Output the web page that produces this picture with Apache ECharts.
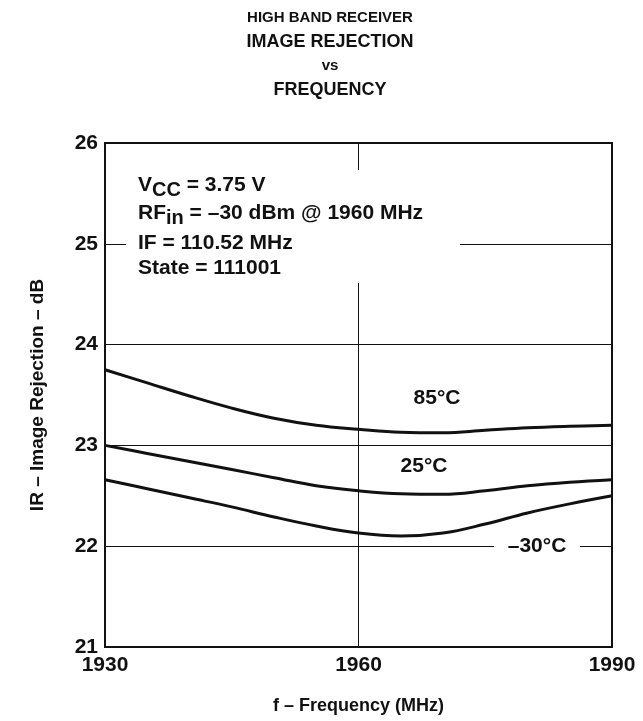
<!DOCTYPE html>
<html>
<head>
<meta charset="utf-8">
<script src="https://cdn.jsdelivr.net/npm/echarts@6/dist/echarts.min.js"></script>
<style>
  html, body { margin: 0; padding: 0; background: #fff; }
  #chart { width: 643px; height: 721px; }
</style>
</head>
<body>
<div id="chart"></div>
<script>
// frequency points (MHz)
const freqs = [1930, 1935, 1940, 1945, 1950, 1955, 1960, 1965, 1970, 1975, 1980, 1985, 1990];

// image rejection (dB) per temperature
const ir85 = [23.75, 23.62, 23.49, 23.37, 23.27, 23.20, 23.16, 23.13, 23.125, 23.15, 23.175, 23.19, 23.20];
const ir25 = [23.00, 22.92, 22.84, 22.76, 22.68, 22.60, 22.55, 22.52, 22.515, 22.55, 22.60, 22.635, 22.66];
const irM30 = [22.66, 22.57, 22.48, 22.39, 22.29, 22.20, 22.13, 22.10, 22.13, 22.22, 22.33, 22.42, 22.50];

const xTicks = [1930, 1960, 1990];
const yTicks = [21, 22, 23, 24, 25, 26];

const FONT = '"Liberation Sans", Arial, Helvetica, sans-serif';

const pairs = (ys) => freqs.map((f, i) => [f, ys[i]]);

const lineSeries = (name, ys) => ({
    name: name,
    type: 'line',
    data: pairs(ys),
    smooth: 0.4,
    symbol: 'none',
    z: 10,
    lineStyle: { color: '#111', width: 3 }
});

const chart = echarts.init(document.getElementById('chart'));

/**
 * 标注文字（图中说明）
 */
const txt = (x, y, text, size, align) => ({
    type: 'text',
    x: x, y: y, z: 20,
    style: {
        text: text,
        font: 'bold ' + size + 'px ' + FONT,
        fill: '#111',
        align: align || 'center',
        verticalAlign: 'middle'
    }
});

/**
 * 带下标的说明行
 */
const subTxt = (x, y, main, sub, rest) => ({
    type: 'text',
    x: x, y: y, z: 20,
    style: {
        text: '{b|' + main + '}{s|' + sub + '}{b|' + rest + '}',
        fill: '#111',
        verticalAlign: 'middle',
        rich: {
            b: { font: 'bold 21px ' + FONT, fill: '#111', height: 24 },
            s: { font: 'bold 20px ' + FONT, fill: '#111', height: 24, padding: [10, 0, 0, 0] }
        }
    }
});

chart.setOption({
    animation: false,
    backgroundColor: '#fff',
    grid: { left: 105, right: 31, top: 143, bottom: 74 },
    xAxis: {
        type: 'value',
        min: xTicks[0], max: xTicks[xTicks.length - 1], interval: 30,
        name: 'f – Frequency (MHz)',
        nameLocation: 'middle',
        nameGap: 50,
        nameTextStyle: { fontFamily: FONT, fontWeight: 'bold', fontSize: 18, color: '#111' },
        axisLine: { lineStyle: { color: '#111', width: 2 } },
        axisTick: { show: false },
        axisLabel: { fontFamily: FONT, fontWeight: 'bold', fontSize: 21, color: '#111', margin: 8,
                     formatter: (v) => String(v) },
        splitLine: { show: true, lineStyle: { color: '#111', width: 1 } }
    },
    yAxis: {
        type: 'value',
        min: yTicks[0], max: yTicks[yTicks.length - 1], interval: 1,
        name: 'IR – Image Rejection – dB',
        nameLocation: 'middle',
        nameGap: 58,
        nameTextStyle: { fontFamily: FONT, fontWeight: 'bold', fontSize: 19, color: '#111' },
        axisLine: { show: true, lineStyle: { color: '#111', width: 2 } },
        axisTick: { show: false },
        axisLabel: { fontFamily: FONT, fontWeight: 'bold', fontSize: 21, color: '#111', margin: 7 },
        splitLine: { show: true, lineStyle: { color: '#111', width: 1 } }
    },
    series: [
        lineSeries('85°C', ir85),
        lineSeries('25°C', ir25),
        lineSeries('–30°C', irM30)
    ],
    graphic: [
        // 图框右/上边
        { type: 'rect', z: 15, shape: { x: 105, y: 143, width: 507, height: 504 },
          style: { fill: 'none', stroke: '#111', lineWidth: 2 } },
        // 说明区域遮挡网格线
        { type: 'rect', z: 5, shape: { x: 126, y: 170, width: 334, height: 113 }, style: { fill: '#fff' } },
        { type: 'rect', z: 5, shape: { x: 494, y: 536, width: 86, height: 22 }, style: { fill: '#fff' } },

        txt(330, 18, 'HIGH BAND RECEIVER', 15),
        txt(330, 42, 'IMAGE REJECTION', 18),
        txt(330, 66, 'vs', 15),
        txt(330, 90, 'FREQUENCY', 18),

        subTxt(138, 185, 'V', 'CC', ' = 3.75 V'),
        subTxt(138, 213, 'RF', 'in', ' = –30 dBm @ 1960 MHz'),
        txt(138, 243, 'IF = 110.52 MHz', 21, 'left'),
        txt(138, 268, 'State = 111001', 21, 'left'),

        txt(437, 398, '85°C', 21),
        txt(424, 466, '25°C', 21),
        txt(537, 546, '–30°C', 21)
    ]
});
</script>
</body>
</html>
